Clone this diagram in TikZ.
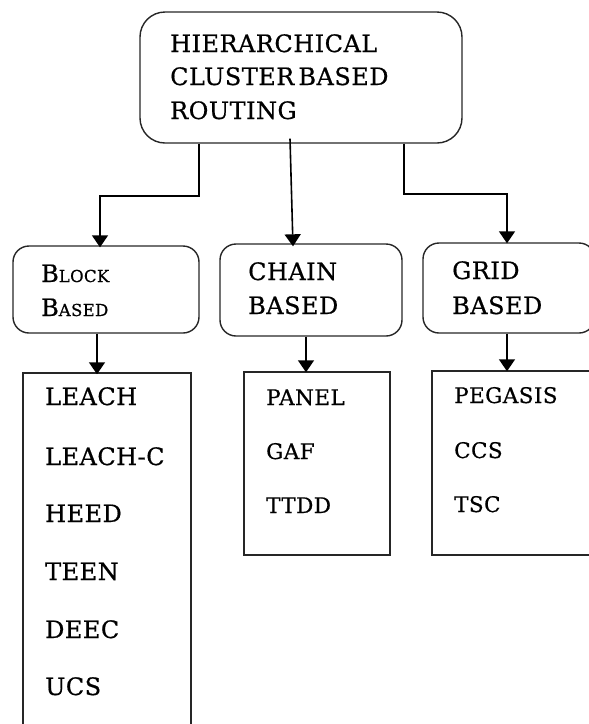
\documentclass[tikz,border=0pt]{standalone}
\usepackage{fontspec}
\setmainfont{DejaVu Serif}[FakeBold=0.6,LetterSpace=2]
\usetikzlibrary{arrows.meta}
\begin{document}
\begin{tikzpicture}[x=1pt,y=-1pt,
  boxr/.style={draw=black!85, line width=1.4pt, inner sep=0pt},
  listbox/.style={draw=black!85, line width=1.5pt, inner sep=0pt},
  lbl/.style={anchor=base west, inner sep=0pt, font=\fontsize{24}{28}\selectfont},
  slbl/.style={anchor=base west, inner sep=0pt, font=\fontsize{21.5}{26}\selectfont},
  arr/.style={line width=1.6pt, -{Triangle[width=16pt,length=12pt]}}]
\useasboundingbox (0,0) rectangle (589,724);
% boxes
\node[boxr, rounded corners=25, minimum width=322, minimum height=131] (top) at (301,77.5) {};
\node[boxr, rounded corners=16, minimum width=186, minimum height=87] (block) at (106,289.5) {};
\node[boxr, rounded corners=16, minimum width=182, minimum height=92] (chain) at (311,290) {};
\node[boxr, rounded corners=16, minimum width=172, minimum height=90] (grid) at (509,288) {};
\node[listbox, minimum width=168, minimum height=367] (blist) at (107,556.5) {};
\node[listbox, minimum width=146, minimum height=183] (clist) at (317,463.5) {};
\node[listbox, minimum width=178, minimum height=184] (glist) at (521,463) {};
% texts
\node[lbl] (t1) at (170,52) {HIERARCHICAL};
\node[lbl] (t2) at (170,85) {CLUSTER\hspace{-4pt} BASED};
\node[lbl] (t3) at (170,119) {ROUTING};
\node[lbl] (b1) at (41,282) {B{\fontsize{16.5}{20}\selectfont LOCK}};
\node[lbl] (b2) at (41,316) {B{\fontsize{16.5}{20}\selectfont ASED}};
\node[lbl] (c1) at (248,280) {CHAIN};
\node[lbl] (c2) at (248,314) {BASED};
\node[lbl] (g1) at (452,279) {GRID};
\node[lbl] (g2) at (452,314) {BASED};
\node[lbl] (l1) at (45,405) {LEACH};
\node[lbl] (l2) at (45,465) {LEACH-C};
\node[lbl] (l3) at (45,522) {HEED};
\node[lbl] (l4) at (45,580) {TEEN};
\node[lbl] (l5) at (45,638) {DEEC};
\node[lbl] (l6) at (45,695) {UCS};
\node[slbl] (p1) at (266,405) {PANEL};
\node[slbl] (p2) at (266,459) {GAF};
\node[slbl] (p3) at (266,513) {TTDD};
\node[slbl] (q1) at (454,403) {PEGASIS};
\node[slbl] (q2) at (454,458) {CCS};
\node[slbl] (q3) at (454,512) {TSC};
% connectors
\draw[arr] ([xshift=-102]top.south) -- ++(0,52) -| ([xshift=-6,yshift=-2]block.north);
\draw[arr] ([xshift=-11,yshift=5]top.south) -- ([xshift=-18,yshift=-3]chain.north);
\draw[arr] ([xshift=103]top.south) -- ++(0,50) -| ([xshift=-2,yshift=-1]grid.north);
\draw[arr] ([xshift=-9]block.south) -- ([xshift=-10,yshift=-2]blist.north);
\draw[arr] ([xshift=-5]chain.south) -- ([xshift=-11,yshift=-1]clist.north);
\draw[arr] ([xshift=-2]grid.south) -- ([xshift=-14,yshift=-1]glist.north);
\end{tikzpicture}
\end{document}
